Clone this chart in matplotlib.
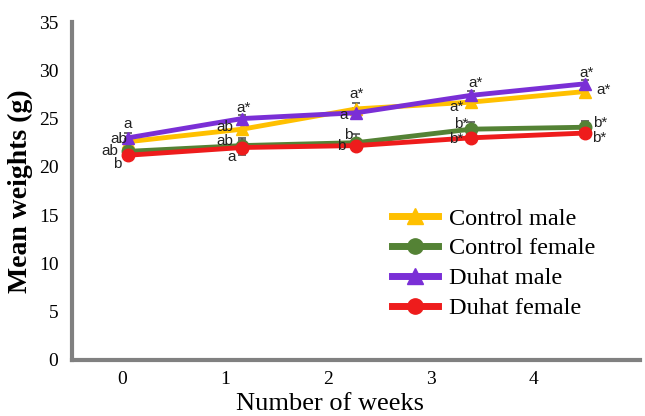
import numpy as np
import matplotlib
matplotlib.use("Agg")
import matplotlib.pyplot as plt

weeks = np.array([0, 1, 2, 3, 4])

control_male = [22.6, 23.9, 26.0, 26.7, 27.8]
control_female = [21.6, 22.2, 22.5, 23.9, 24.1]
duhat_male = [23.0, 25.0, 25.6, 27.4, 28.6]
duhat_female = [21.2, 22.0, 22.2, 23.0, 23.5]

control_male_err = [0.3, 0.5, 0.6, 0.5, 0.4]
control_female_err = [0.3, 0.8, 0.9, 0.7, 0.6]
duhat_male_err = [0.5, 0.4, 0.5, 0.5, 0.4]
duhat_female_err = [0.3, 0.8, 0.6, 0.4, 0.4]

# significance letters per point: (text, dx, dy) offsets in pixels
control_male_lbl = [("ab", -9, 3), ("ab", -17, 2), ("a*", 0, 15), ("a*", -14, -5), ("a*", 19, 2)]
control_female_lbl = [("ab", -18, 0), ("ab", -17, 5), ("b", -8, 8), ("b*", -10, 5), ("b*", 15, 4)]
duhat_male_lbl = [("a", 0, 14), ("a*", 1, 11), ("a", -13, -2), ("a*", 5, 12), ("a*", 2, 11)]
duhat_female_lbl = [("b", -11, -9), ("a", -11, -9), ("b", -15, 0), ("b*", -15, -1), ("b*", 14, -5)]

series = [
    ("Control male", control_male, control_male_err, control_male_lbl, "#FFC000", "^"),
    ("Control female", control_female, control_female_err, control_female_lbl, "#548235", "o"),
    ("Duhat male", duhat_male, duhat_male_err, duhat_male_lbl, "#7A2FD6", "^"),
    ("Duhat female", duhat_female, duhat_female_err, duhat_female_lbl, "#EE1C1C", "o"),
]

fig = plt.figure(figsize=(6.45, 4.16), dpi=100)
ax = fig.add_axes([0.112, 0.135, 0.88, 0.812])

handles = []
for name, vals, err, lbls, color, marker in series:
    ax.errorbar(weeks, vals, yerr=err, fmt="none", ecolor="#555555",
                elinewidth=1.2, capsize=3, capthick=1.2, zorder=2)
    h, = ax.plot(weeks, vals, color=color, lw=3.5, marker=marker,
                 markersize=9, label=name, zorder=3)
    handles.append(h)
    for x, y, (txt, dx, dy) in zip(weeks, vals, lbls):
        ax.annotate(txt, (x, y), xytext=(dx, dy), textcoords="offset pixels",
                    ha="center", va="center", fontsize=11,
                    family="Liberation Sans", color="#222222", zorder=4)

ax.set_xlim(-0.487, 4.48)
ax.set_ylim(0, 35)
ax.set_yticks(np.arange(0, 36, 5))
# tick labels sit a little left of the points in the original figure
ax.set_xticks(weeks * 0.9 - 0.05, labels=[str(w) for w in weeks])

for side in ["top", "right"]:
    ax.spines[side].set_visible(False)
for side in ["left", "bottom"]:
    ax.spines[side].set_color("#808080")
    ax.spines[side].set_linewidth(3)

ax.tick_params(length=0, labelsize=14)
ax.tick_params(axis="y", pad=10)
ax.tick_params(axis="x", pad=8)
for lab in ax.get_xticklabels() + ax.get_yticklabels():
    lab.set_family("Liberation Serif")

ax.set_ylabel("Mean weights (g)", family="Liberation Serif", fontsize=20,
              fontweight="bold", labelpad=4)
ax.set_xlabel("Number of weeks", family="Liberation Serif", fontsize=19)
ax.xaxis.set_label_coords(0.455, -0.098)

leg = fig.legend(handles=handles, loc="upper left", bbox_to_anchor=(0.589, 0.53),
                 frameon=False, prop={"family": "Liberation Serif", "size": 17.5},
                 handlelength=1.9, handletextpad=0.45, labelspacing=0.32,
                 borderpad=0)
for line in leg.get_lines():
    line.set_linewidth(5)
    line.set_markersize(11)

fig.savefig("out.png", dpi=100)
